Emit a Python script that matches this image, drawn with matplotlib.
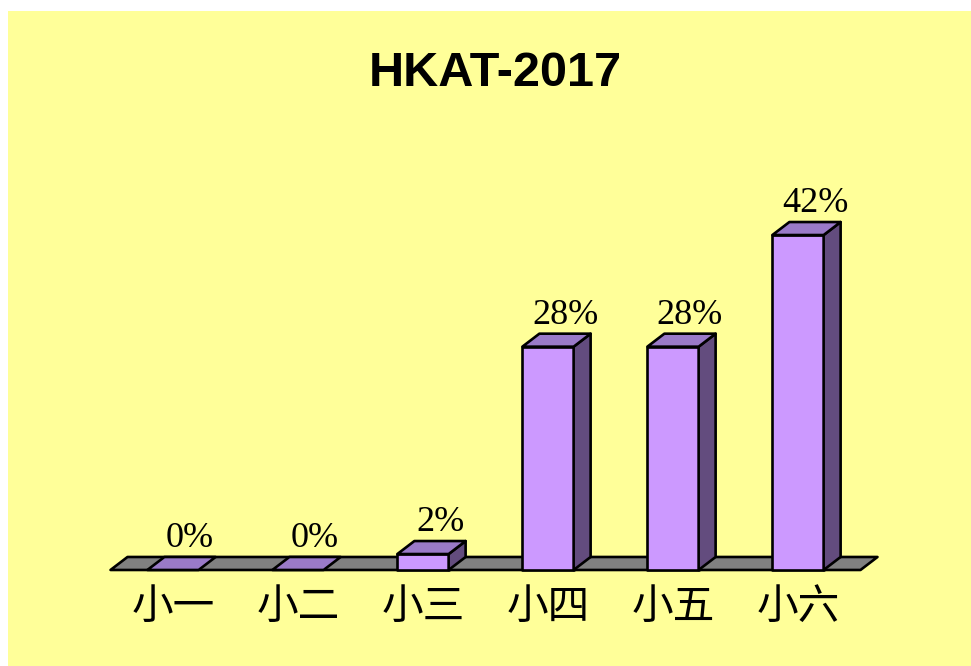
import matplotlib.pyplot as plt
from matplotlib.patches import Polygon, Rectangle

categories = ['小一', '小二', '小三', '小四', '小五', '小六']
values = [0, 0, 2, 28, 28, 42]
labels = ['0%', '0%', '2%', '28%', '28%', '42%']

front_c = '#CC99FF'
top_c = '#9A7AC8'
side_c = '#634C7E'
floor_c = '#808080'

fig = plt.figure(figsize=(9.71, 6.66), dpi=100)
fig.patch.set_facecolor('white')

ax = fig.add_axes([0, 0, 1, 1])
ax.set_facecolor('none')
ax.set_xlim(-1.384, 6.384)
ax.set_ylim(-12.04, 71.47)
ax.axis('off')

# yellow chart area (white strip on top and left)
ax.add_patch(Rectangle((8 / 971, 0), 1, 1 - 11 / 666, transform=fig.transFigure,
                       facecolor='#FFFF99', edgecolor='none', zorder=0))

w = 0.41      # bar width
dx = 0.136    # depth offset x
dy = 1.63     # depth offset y
lw = 1.9

def poly(pts, color, z):
    ax.add_patch(Polygon(pts, closed=True, facecolor=color, edgecolor='black',
                         linewidth=lw, joinstyle='round', zorder=z))

# floor
n = len(categories)
poly([(-0.5, 0), (n - 0.5, 0), (n - 0.5 + dx, dy), (-0.5 + dx, dy)], floor_c, 1)

for i, (v, lab) in enumerate(zip(values, labels)):
    x0, x1 = i - w / 2, i + w / 2
    if v > 0:
        poly([(x0, 0), (x1, 0), (x1, v), (x0, v)], front_c, 3)
        poly([(x1, 0), (x1 + dx, dy), (x1 + dx, v + dy), (x1, v)], side_c, 3)
    poly([(x0, v), (x1, v), (x1 + dx, v + dy), (x0 + dx, v + dy)], top_c, 3)
    ax.text(i + dx, v + dy + 1.2, lab, ha='center', va='baseline',
            fontsize=26, family='Liberation Serif', color='black', zorder=4)
    ax.text(i, -4.76, categories[i], ha='center', va='center', fontsize=30,
            family=['Noto Sans CJK TC', 'DejaVu Sans'], color='black', zorder=4)

ax.text(495 / 971, 1 - 73 / 666, 'HKAT-2017', transform=fig.transFigure,
        ha='center', va='center', fontsize=35, fontweight='bold',
        family='Liberation Sans', color='black', zorder=4)

fig.savefig('out.png', dpi=100)
